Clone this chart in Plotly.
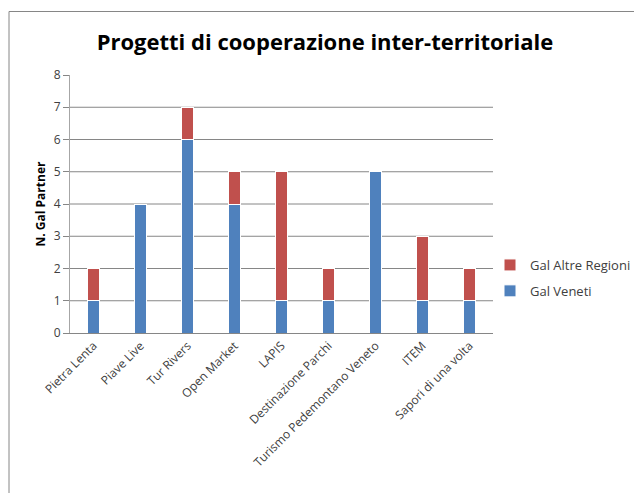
import plotly.graph_objects as go

categories = ["Pietra Lenta", "Piave Live", "Tur Rivers", "Open Market", "LAPIS",
              "Destinazione Parchi", "Turismo Pedemontano Veneto", "ITEM", "Sapori di una volta"]
gal_veneti = [1, 4, 6, 4, 1, 1, 5, 1, 1]
gal_altre = [1, 0, 1, 1, 4, 1, 0, 2, 1]
y_ticks = [0, 1, 2, 3, 4, 5, 6, 7, 8]
grid_vals = [1, 2, 3, 4, 5, 6, 7]

# page body has an 8px margin; work in figure pixels (screen - 8)
OFF = 8
W, H = 642 - OFF, 493 - OFF
L, T = 70 - OFF, 75 - OFF
PR, PB = 493 - OFF, 333 - OFF
R, B = W - PR, H - PB
pw, ph = PR - L, PB - T

def px_x(sx):
    return (sx - OFF - L) / pw

def px_y(sy):
    return (PB - (sy - OFF)) / ph

fig = go.Figure()
fig.add_trace(go.Bar(x=categories, y=gal_veneti, name="Gal Veneti",
                     legendgroup="b", legendrank=2,
                     marker=dict(color="#4F81BD", line=dict(color="white", width=1)),
                     width=0.24))
fig.add_trace(go.Bar(x=categories, y=gal_altre, name="Gal Altre Regioni",
                     legendgroup="a", legendrank=1,
                     marker=dict(color="#C0504D", line=dict(color="white", width=1)),
                     width=0.24))

shapes = []
for g in grid_vals:
    shapes.append(dict(type="line", xref="paper", yref="y", x0=0, x1=1, y0=g, y1=g,
                       line=dict(color="#868686", width=1), layer="below"))
# outer frame
shapes.append(dict(type="rect", xref="paper", yref="paper",
                   x0=px_x(9), x1=px_x(700), y0=px_y(560), y1=px_y(11.5),
                   line=dict(color="#868686", width=1), fillcolor="rgba(0,0,0,0)"))

fig.update_layout(
    width=W, height=H,
    margin=dict(l=L, r=R, t=T, b=B, autoexpand=False),
    barmode="stack",
    paper_bgcolor="white", plot_bgcolor="white",
    font=dict(family="Open Sans", size=12, color="#404040"),
    title=dict(text="<b>Progetti di cooperazione inter-territoriale</b>",
               x=(325 - OFF) / W, xanchor="center", y=1 - (42 - OFF) / H, yanchor="middle",
               font=dict(family="Open Sans", size=22, color="black")),
    legend=dict(x=px_x(490), y=px_y(250), xanchor="left", yanchor="top",
                traceorder="grouped", tracegroupgap=6,
                font=dict(size=13, color="#404040"),
                itemwidth=30, bgcolor="rgba(0,0,0,0)"),
    xaxis=dict(tickangle=-45, showline=True, linecolor="#868686", linewidth=1,
               showgrid=False, ticks="", automargin=False,
               tickfont=dict(size=12, color="#404040")),
    yaxis=dict(range=[0, 8], tickvals=y_ticks, showgrid=False, showline=True,
               linecolor="#a6a6a6", linewidth=1, ticks="outside", ticklen=6,
               tickcolor="#868686", zeroline=False, automargin=False,
               tickfont=dict(size=12, color="#404040"),
               title=dict(text="<b>N. Gal Partner</b>", font=dict(size=12, color="black"),
                          standoff=5)),
    shapes=shapes,
    bargap=0.5,
)

fig.write_html("out.html")
